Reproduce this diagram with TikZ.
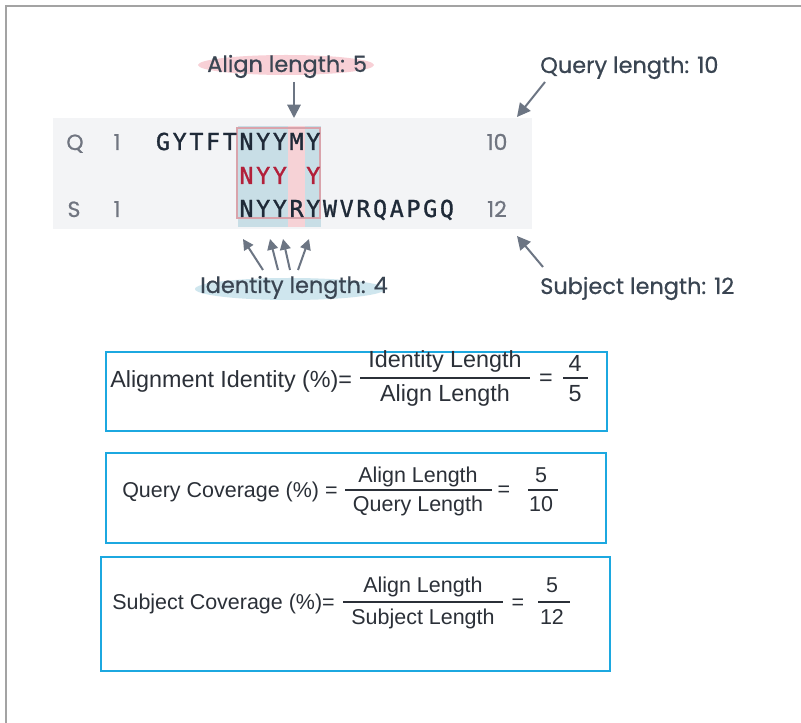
\documentclass[tikz,border=0pt]{standalone}
\usepackage{fontspec}
\setmainfont{Liberation Sans}
\newfontfamily\lblfont[FakeBold=0.6]{Poppins}
\newfontfamily\seqfont[FakeBold=1.2]{DejaVu Sans Mono}
\usepackage{tikz}
\usetikzlibrary{arrows.meta}
\tikzset{>={Triangle[width=10pt,length=10pt]}}
\definecolor{txt}{HTML}{3A4552}
\definecolor{arr}{HTML}{6C7583}
\definecolor{panel}{HTML}{F3F4F6}
\definecolor{bluehl}{HTML}{C8DEE6}
\definecolor{pinkhl}{HTML}{F6D2D6}
\definecolor{outl}{HTML}{D9A3AB}
\definecolor{redc}{HTML}{B2203A}
\definecolor{seqc}{HTML}{1F2A38}
\definecolor{numc}{HTML}{707580}
\definecolor{boxc}{HTML}{1CA8E0}
\definecolor{framec}{HTML}{A3A3A3}
\definecolor{frmc}{HTML}{2B3038}
\definecolor{blueel}{HTML}{CFE6EE}
\definecolor{pinkel}{HTML}{F8D0D6}

\begin{document}
\begin{tikzpicture}[x=0.75pt, y=-0.75pt,
  lbl/.style = {font=\lblfont\fontsize{16.8}{18}\selectfont, text=txt, inner sep=0pt, anchor=base west},
  num/.style = {font=\lblfont\fontsize{16.5}{18}\selectfont, text=numc, inner sep=0pt, anchor=base},
  seq/.style = {font=\seqfont\fontsize{17.5}{19}\selectfont, text=seqc, inner sep=0pt, anchor=base},
  frm/.style = {font=\fontsize{16.1}{18}\selectfont, text=frmc, inner sep=0pt, anchor=base},
  big/.style = {font=\fontsize{17.5}{19}\selectfont},
  box/.style = {draw=boxc, line width=2.2pt},
  bar/.style = {draw=frmc, line width=0.9pt},
  pt/.style = {->, draw=arr, line width=1.5pt}]
\useasboundingbox (0,0) rectangle (801,723);
\fill[white] (0,0) rectangle (801,723);
\draw[framec, line width=1.5pt] (6,723) -- (6,6) -- (801,6);

\fill[pinkel] (286,65) ellipse (88 and 10);
\fill[blueel] (290,289) ellipse (95 and 11);

\fill[panel] (53,118) rectangle (532,229);
\fill[bluehl] (238,126) rectangle (288,227);
\fill[bluehl] (305,126) rectangle (321,227);
\fill[pinkhl] (288,126) rectangle (305,227);
\draw[outl, line width=0.8pt] (237,128) rectangle (320,218);

\node[num] (qn) at (75,150) {Q};
\node[num] (q1) at (117,150) {1};
\node[num] (qe) at (497,150) {10};
\node[num] (sn) at (74,217) {S};
\node[num] (s1) at (117,217) {1};
\node[num] (se) at (497,217) {12};
\foreach \c [count=\i from 0] in {G,Y,T,F,T,N,Y,Y,M,Y}
  \node[seq] (q\i) at (163+16.7*\i,150) {\c};
\foreach \c/\i in {N/5,Y/6,Y/7,Y/9}
  \node[seq, text=redc] (m\i) at (163+16.7*\i,184) {\c};
\foreach \c [count=\i from 5] in {N,Y,Y,R,Y,W,V,R,Q,A,P,G,Q}
  \node[seq] (s\i) at (163+16.7*\i,217) {\c};

\node[lbl] (al) at (207,72) {Align length: 5};
\node[lbl] (ql) at (540,73) {Query length: 10};
\node[lbl] (sl) at (540,294) {Subject length: 12};
\node[lbl] (il) at (200,293) {Identity length: 4};

\coordinate (a0) at (294,82);  \coordinate (a1) at (294,118);
\coordinate (b0) at (545,82);  \coordinate (b1) at (517,117);
\coordinate (c0) at (543,267); \coordinate (c1) at (517,236);
\draw[pt] (a0) -- (a1);
\draw[pt] (b0) -- (b1);
\draw[pt] (c0) -- (c1);
\foreach \t/\h [count=\k] in {263/243,278/270,290/283,298/309}
  \draw[pt, -{Triangle[width=8pt,length=8pt]}] (\t,270) -- (\h,239);

\draw[box] (106,352) rectangle (607,431);
\node[frm, big, anchor=base west] (f1) at (110,388) {Alignment Identity (\%)=};
\node[frm, big] (n1) at (445,368) {Identity Length};
\node[frm, big] (d1) at (445,402) {Align Length};
\draw[bar] (360,378) -- (530,378);
\node[frm, big] (e1) at (546,386) {=};
\node[frm, big] (x1) at (575,372) {4};
\node[frm, big] (y1) at (575,402) {5};
\draw[bar] (563,378) -- (588,378);

\draw[box] (106,453) rectangle (606,543);
\node[frm, anchor=base west] (f2) at (122,498) {Query Coverage (\%) =};
\node[frm] (n2) at (418,483) {Align Length};
\node[frm] (d2) at (418,512) {Query Length};
\draw[bar] (345,490) -- (492,490);
\node[frm] (e2) at (504,497) {=};
\node[frm] (x2) at (541,483) {5};
\node[frm] (y2) at (541,512) {10};
\draw[bar] (528,490) -- (558,490);

\draw[box] (101,557) rectangle (610,671);
\node[frm, anchor=base west] (f3) at (112,610) {Subject Coverage (\%)=};
\node[frm] (n3) at (423,593) {Align Length};
\node[frm] (d3) at (423,625) {Subject Length};
\draw[bar] (343,602) -- (503,602);
\node[frm] (e3) at (518,610) {=};
\node[frm] (x3) at (552,593) {5};
\node[frm] (y3) at (552,625) {12};
\draw[bar] (538,602) -- (570,602);
\end{tikzpicture}
\end{document}
